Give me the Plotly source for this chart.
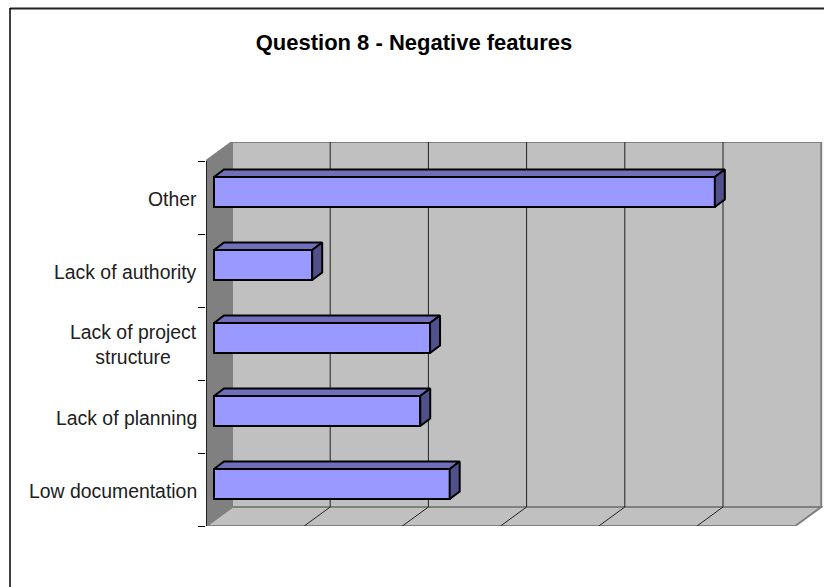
import plotly.graph_objects as go

categories = ["Low documentation", "Lack of planning", "Lack of project<br>structure",
              "Lack of authority", "Other"]
values = [2.4, 2.1, 2.2, 1.0, 5.1]
gridlines = [1, 2, 3, 4, 5, 6]
title = "Question 8 - Negative features"

FIG_W, FIG_H = 824, 587
LEFT, RIGHT, TOP, BOTTOM = 206, 823, 142, 526  # plot area in page pixels
PX_X = 98.2  # pixels per value unit
PX_Y = 73.0  # pixels per category
ZERO_PX = 214  # where value 0 sits on the bar front
LABEL_0_PX = 491  # centre of the first category label


def dx(px):
    return px / PX_X


def dy(px):
    return -px / PX_Y


x_range = [dx(LEFT - ZERO_PX), dx(RIGHT - ZERO_PX)]
y_range = [(LABEL_0_PX - BOTTOM) / PX_Y, (LABEL_0_PX - TOP) / PX_Y]

wall_x0 = dx(18)
floor_x0 = dx(-8)
wall_bottom = y_range[0] + dy(-19)
floor_y = y_range[0]
wall_top = y_range[1]
wall_x1 = wall_x0 + gridlines[-1]
floor_x1 = floor_x0 + gridlines[-1]
wall_left_top = wall_top + dy(19)

BAR_LIFT = dy(-7)
BAR_H = 30 / PX_Y
DEPTH_X = dx(10)
DEPTH_Y = dy(-7.5)

fig = go.Figure()


def poly(points, fill, line="#808080", width=2):
    path = "M " + " L ".join(f"{x},{y}" for x, y in points) + " Z"
    fig.add_shape(type="path", path=path, xref="x", yref="y", layer="below",
                  fillcolor=fill, line=dict(color=line, width=width))


# walls and floor
poly([(wall_x0, wall_bottom), (wall_x1, wall_bottom), (wall_x1, wall_top), (wall_x0, wall_top)], "#C0C0C0")
poly([(floor_x0, floor_y), (floor_x1, floor_y), (wall_x1, wall_bottom), (wall_x0, wall_bottom)], "#C0C0C0")
poly([(floor_x0, floor_y), (floor_x0, wall_left_top), (wall_x0, wall_top), (wall_x0, wall_bottom)], "#808080")

for g in gridlines[:-1]:
    fig.add_shape(type="line", xref="x", yref="y", layer="below",
                  x0=wall_x0 + g, x1=wall_x0 + g, y0=wall_bottom, y1=wall_top,
                  line=dict(color="#222222", width=1))
    fig.add_shape(type="line", xref="x", yref="y", layer="below",
                  x0=wall_x0 + g, x1=floor_x0 + g, y0=wall_bottom, y1=floor_y,
                  line=dict(color="#222222", width=1))
# category axis line along the front of the side wall
fig.add_shape(type="line", xref="x", yref="y", layer="below",
              x0=floor_x0, x1=floor_x0, y0=floor_y, y1=wall_left_top,
              line=dict(color="#000000", width=1.5))

bar_y = [i + BAR_LIFT for i in range(len(categories))]

fig.add_trace(go.Bar(
    x=values, y=bar_y, orientation="h", width=BAR_H,
    marker=dict(color="#9999FF", line=dict(color="#000000", width=2)),
    hoverinfo="skip", showlegend=False,
))

for v, y in zip(values, bar_y):
    y0, y1 = y - BAR_H / 2, y + BAR_H / 2
    fig.add_trace(go.Scatter(
        x=[0, v, v + DEPTH_X, DEPTH_X, 0],
        y=[y1, y1, y1 + DEPTH_Y, y1 + DEPTH_Y, y1],
        mode="lines", fill="toself", fillcolor="#6F6FBA",
        line=dict(color="#000000", width=2), hoverinfo="skip", showlegend=False,
    ))
    fig.add_trace(go.Scatter(
        x=[v, v + DEPTH_X, v + DEPTH_X, v, v],
        y=[y0, y0 + DEPTH_Y, y1 + DEPTH_Y, y1, y0],
        mode="lines", fill="toself", fillcolor="#50508A",
        line=dict(color="#000000", width=2), hoverinfo="skip", showlegend=False,
    ))


def paper_x(px):
    return (px - LEFT) / (RIGHT - LEFT)


def paper_y(py):
    return (BOTTOM - py) / (BOTTOM - TOP)


# chart frame: only the top and left edges fall inside the picture
fig.add_shape(type="line", xref="paper", yref="paper", x0=paper_x(10), x1=paper_x(FIG_W),
              y0=paper_y(8.5), y1=paper_y(8.5), line=dict(color="#222222", width=2))
fig.add_shape(type="line", xref="paper", yref="paper", x0=paper_x(10), x1=paper_x(10),
              y0=paper_y(8), y1=paper_y(FIG_H), line=dict(color="#000000", width=1.5))

# category labels are centred on themselves, which axis tick labels cannot do
for i, name in enumerate(categories):
    fig.add_annotation(text=name, xref="paper", x=paper_x(197), xanchor="right", align="center",
                       yref="y", y=i, yanchor="middle", showarrow=False, borderpad=0, borderwidth=0,
                       yshift=1 if "<br>" in name else 0)

fig.update_layout(
    width=FIG_W, height=FIG_H,
    margin=dict(l=LEFT, r=FIG_W - RIGHT, t=TOP, b=FIG_H - BOTTOM, pad=0),
    paper_bgcolor="#FFFFFF", plot_bgcolor="#FFFFFF",
    font=dict(family="Liberation Sans, Arial, sans-serif", size=19.4, color="#202020"),
    title=dict(text=f"<b>{title}</b>", font=dict(size=22, color="#000000"), x=414 / FIG_W, xref="container",
               xanchor="center", y=1 - 42 / FIG_H, yanchor="middle"),
    bargap=0, showlegend=False,
    xaxis=dict(range=x_range, showgrid=False, zeroline=False, showticklabels=False, ticks="", fixedrange=True),
    yaxis=dict(
        range=y_range, tickvals=list(range(len(categories))),
        showticklabels=False, showgrid=False, zeroline=False, showline=False, ticks="", fixedrange=True,
        minor=dict(tickvals=[i + y_range[0] for i in range(len(categories) + 1)],
                   ticks="outside", ticklen=7, tickcolor="#000000", tickwidth=1),
    ),
)

fig.write_html("out.html", config=dict(displayModeBar=False),
               post_script="document.body.style.margin='0';document.body.style.overflow='hidden';")
